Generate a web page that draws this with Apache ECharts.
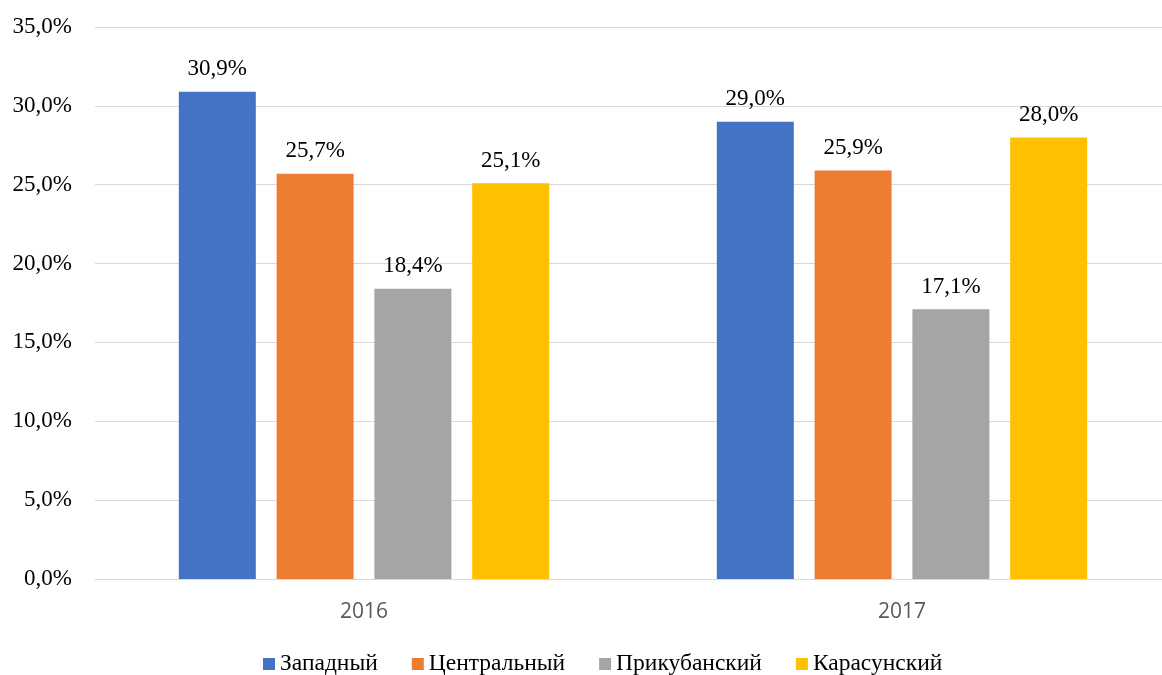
<!DOCTYPE html>
<html><head><meta charset="utf-8">
<script src="https://cdn.jsdelivr.net/npm/echarts@6/dist/echarts.min.js"></script>
<style>html,body{margin:0;padding:0;background:#fff;overflow:hidden}#c{width:1180px;height:675px}</style>
</head><body><div id="c"></div>
<script>
const categories = ['2016', '2017'];
const seriesNames = ['Западный', 'Центральный', 'Прикубанский', 'Карасунский'];
const zapadny = [30.9, 29.0];
const centralny = [25.7, 25.9];
const prikubansky = [18.4, 17.1];
const karasunsky = [25.1, 28.0];
const colors = ['#4472C4', '#ED7D31', '#A5A5A5', '#FFC000'];
const values = [zapadny, centralny, prikubansky, karasunsky];
const fmt = v => v.toFixed(1).replace('.', ',') + '%';
const serif = '"Liberation Serif", "DejaVu Serif", serif';
const chart = echarts.init(document.getElementById('c'));
chart.setOption({
  animation: false,
  color: colors,
  grid: { left: 95, right: 9, top: 27, bottom: 96 },
  legend: {
    bottom: -6, left: 258, itemWidth: 12, itemHeight: 12, itemGap: 34,
    icon: 'rect',
    textStyle: { fontFamily: serif, fontSize: 23.5, color: '#000' },
    data: seriesNames
  },
  xAxis: {
    type: 'category', data: categories,
    axisLine: { lineStyle: { color: '#d9d9d9', width: 1 } },
    axisTick: { show: false },
    axisLabel: { fontFamily: '"Open Sans", sans-serif', fontSize: 21, color: '#595959', margin: 23 }
  },
  yAxis: {
    type: 'value', min: 0, max: 35, interval: 5,
    axisLabel: { formatter: v => fmt(v), fontFamily: serif, fontSize: 23, color: '#000', margin: 23 },
    splitLine: { lineStyle: { color: '#d9d9d9', width: 1 } },
    axisLine: { show: false }, axisTick: { show: false }
  },
  series: seriesNames.map((n, i) => ({
    name: n, type: 'bar', data: values[i], barWidth: 77, barGap: '27%',
    label: { show: true, position: 'top', distance: 11, formatter: p => fmt(p.value),
      fontFamily: serif, fontSize: 23, color: '#000' }
  }))
});
</script></body></html>
